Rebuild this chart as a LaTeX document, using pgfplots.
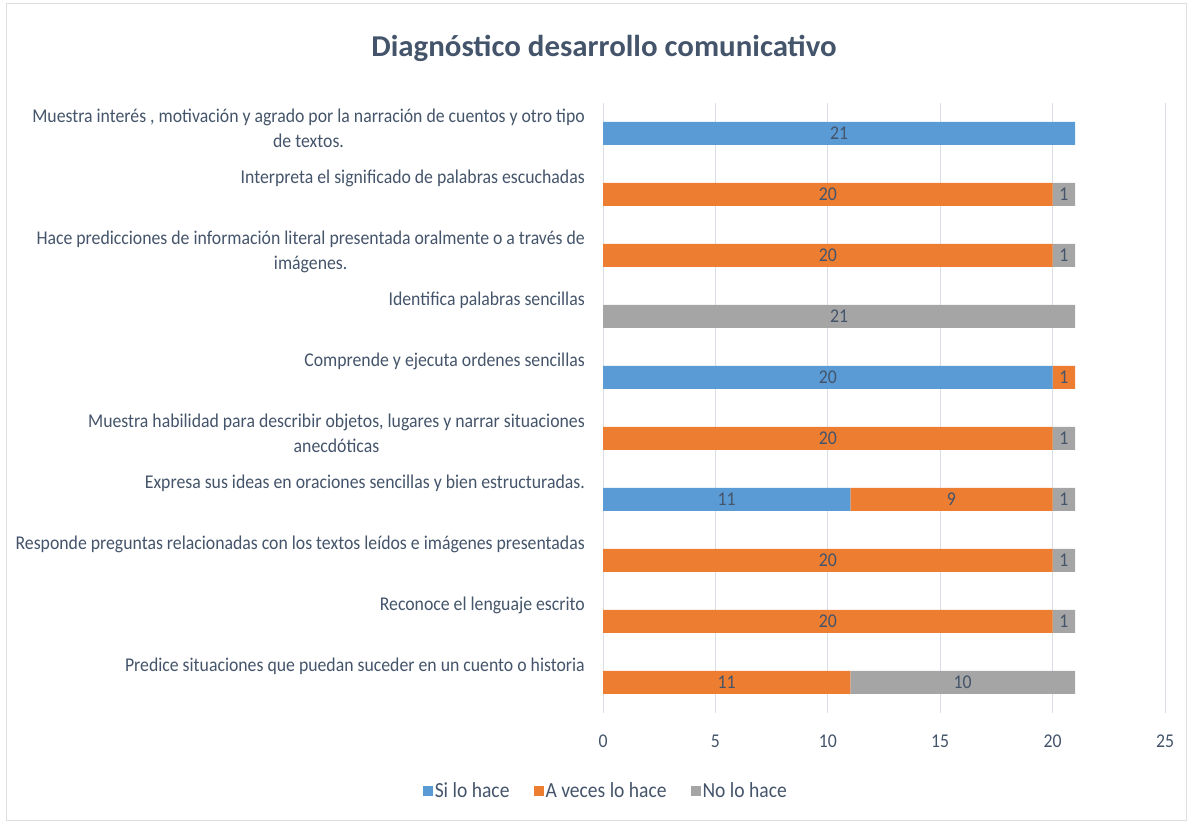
\documentclass[border=0pt]{standalone}
\usepackage{pgfplots}
\pgfplotsset{compat=1.18}
\usepackage{pgfplotstable}
\usepackage{fontspec}
\setmainfont{Carlito}[FakeStretch=0.91]
\newfontfamily\titlefont{Carlito}[FakeStretch=1.02]

\definecolor{siC}{HTML}{5B9BD5}
\definecolor{avC}{HTML}{ED7D31}
\definecolor{noC}{HTML}{A5A5A5}
\definecolor{txt}{HTML}{44546A}
\definecolor{gridC}{HTML}{D9DEE6}

% pos 10 = top row of the chart
\pgfplotstableread{
pos si av no
10  21  0  0
9    0 20  1
8    0 20  1
7    0  0 21
6   20  1  0
5    0 20  1
4   11  9  1
3    0 20  1
2    0 20  1
1    0 11 10
}\diag

\newcommand\lblfont{\fontsize{19.5bp}{25bp}\selectfont}

\begin{document}
\begin{tikzpicture}
\path (0bp,0bp) rectangle (1190bp,825bp);
\draw[gray!25, line width=1bp] (6bp,4bp) rectangle (1186bp,821bp);
\node[anchor=base, font=\titlefont\fontsize{30.3bp}{36bp}\selectfont\bfseries, text=txt]
  at (604bp,768bp) {Diagnóstico desarrollo comunicativo};

\begin{axis}[
  at={(603bp,112bp)}, anchor=south west,
  scale only axis, width=562bp, height=610bp,
  xbar stacked, bar width=23bp,
  xmin=0, xmax=25, ymin=0.5, ymax=10.5,
  xtick={0,5,...,25}, ytick={1,...,10},
  /pgf/number format/assume math mode=true,
  yticklabels={
    {Predice situaciones que puedan suceder en un cuento o historia},
    {Reconoce el lenguaje escrito},
    {Responde preguntas relacionadas con los textos leídos e imágenes presentadas},
    {Expresa sus ideas en oraciones sencillas y bien estructuradas.},
    {\begin{tabular}[t]{@{}c@{}}Muestra habilidad para describir objetos, lugares y narrar situaciones\\anecdóticas\end{tabular}},
    {Comprende y ejecuta ordenes sencillas},
    {Identifica palabras sencillas},
    {\begin{tabular}[t]{@{}c@{}}Hace predicciones de información literal presentada oralmente o a través de\\imágenes.\end{tabular}},
    {Interpreta el significado de palabras escuchadas},
    {\begin{tabular}[t]{@{}c@{}}Muestra interés , motivación y agrado por la narración de cuentos y otro tipo\\de textos.\end{tabular}}
  },
  axis line style={draw=none}, tick style={draw=none},
  xmajorgrids, grid style={gridC, line width=1bp},
  xticklabel style={anchor=center, yshift=-28bp, font=\lblfont, text=txt},
  yticklabel style={anchor=base east, inner sep=0pt,
    xshift=-18bp, yshift=11bp, font=\lblfont, text=txt},
  nodes near coords={\pgfmathfloatifflags{\pgfplotspointmeta}{0}{}{\pgfmathprintnumber{\pgfplotspointmeta}}},
  every node near coord/.append style={font=\lblfont, text=txt, anchor=center},
  legend columns=3,
  legend style={at={(axis description cs:0.005,-0.128)}, anchor=center,
    draw=none, fill=none, font=\fontsize{21.5bp}{25bp}\selectfont, text=txt,
    /tikz/every even column/.append style={column sep=22bp}},
  legend image code/.code={\fill[#1] (-3bp,-5bp) rectangle (7bp,5bp);},
]
\addplot[fill=siC, draw=none, point meta=\thisrow{si}]
  table[x=si, y=pos] {\diag};
\addplot[fill=avC, draw=none, point meta=\thisrow{av}]
  table[x=av, y=pos] {\diag};
\addplot[fill=noC, draw=none, point meta=\thisrow{no}]
  table[x=no, y=pos] {\diag};
\legend{Si lo hace, A veces lo hace, No lo hace}
\end{axis}
\end{tikzpicture}
\end{document}
